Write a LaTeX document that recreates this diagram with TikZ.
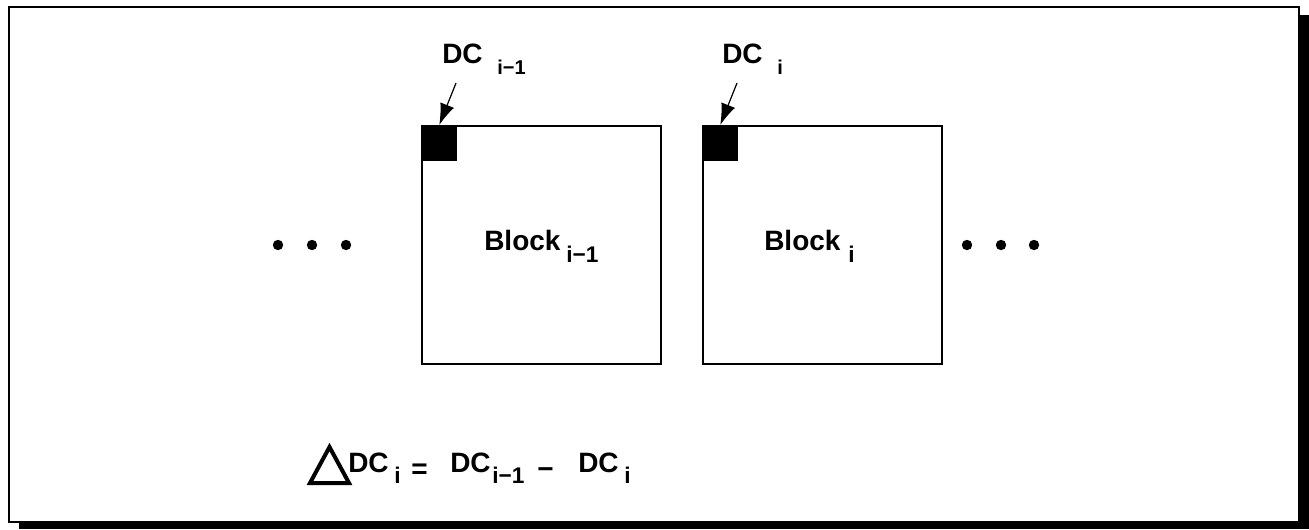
\documentclass[tikz,border=0pt]{standalone}
\usepackage{fontspec}
\setmainfont{Liberation Sans}
\usetikzlibrary{arrows.meta}
\begin{document}
\begin{tikzpicture}[x=0.75pt,y=-0.75pt,
  lbl/.style={inner sep=0pt,anchor=base west,font=\fontsize{21}{21}\bfseries\selectfont},
  sublbl/.style={inner sep=0pt,anchor=base west,font=\fontsize{15}{15}\bfseries\selectfont},
  eqsub/.style={inner sep=0pt,anchor=base west,font=\fontsize{17}{17}\bfseries\selectfont},
  blockbox/.style={draw,line width=1.5pt,inner sep=0pt,minimum width=179.25pt,minimum height=178.5pt},
  dcsq/.style={fill=black,inner sep=0pt,minimum size=27pt,anchor=north west},
  ptr/.style={line width=0.9pt,-{Latex[length=16pt,width=11pt]}},
  dot/.style={fill=black}]
\useasboundingbox (0,0) rectangle (1309,529);
% frame with shadow
\fill[black] (19,15) rectangle (1309,529);
\draw[line width=1.8pt,fill=white] (9,7) rectangle (1299,522);
% blocks
\node[blockbox] (b1) at (541.5,245) {};
\node[blockbox] (b2) at (822.5,245) {};
\node[dcsq] (s1) at (b1.north west) {};
\node[dcsq] (s2) at (b2.north west) {};
% labels DC
\node[lbl] (dc1) at (442,63) {DC};
\node[sublbl] (dc1s) at (497,74) {i−1};
\node[lbl] (dc2) at (722,63) {DC};
\node[sublbl] (dc2s) at (777,74) {i};
\coordinate (a1) at (456,83);
\coordinate (a2) at (737,83);
\draw[ptr] (a1) -- (s1.north);
\draw[ptr] (a2) -- (s2.north);
% block labels
\node[lbl] (bl1) at (484,250) {Block};
\node[eqsub] (bl1s) at (566,262) {i−1};
\node[lbl] (bl2) at (764,250) {Block};
\node[eqsub] (bl2s) at (848,262) {i};
% dots
\foreach \x/\n in {278/l1,312/l2,346/l3,967/r1,1001/r2,1034/r3}
  \fill[dot] (\x,245) circle[radius=3.9pt];
% equation
\draw[line width=3pt,line join=miter] (310,483) -- (349,483) -- (329.5,447) -- cycle;
\node[lbl] (e1) at (348,472) {DC};
\node[eqsub] (e1s) at (394,483) {i};
\node[lbl] (eq) at (411,478) {=};
\node[lbl] (e2) at (450,472) {DC};
\node[eqsub] (e2s) at (492,483) {i−1};
\node[lbl] (mn) at (537,478) {−};
\node[lbl] (e3) at (578,472) {DC};
\node[eqsub] (e3s) at (624,483) {i};
\end{tikzpicture}
\end{document}
